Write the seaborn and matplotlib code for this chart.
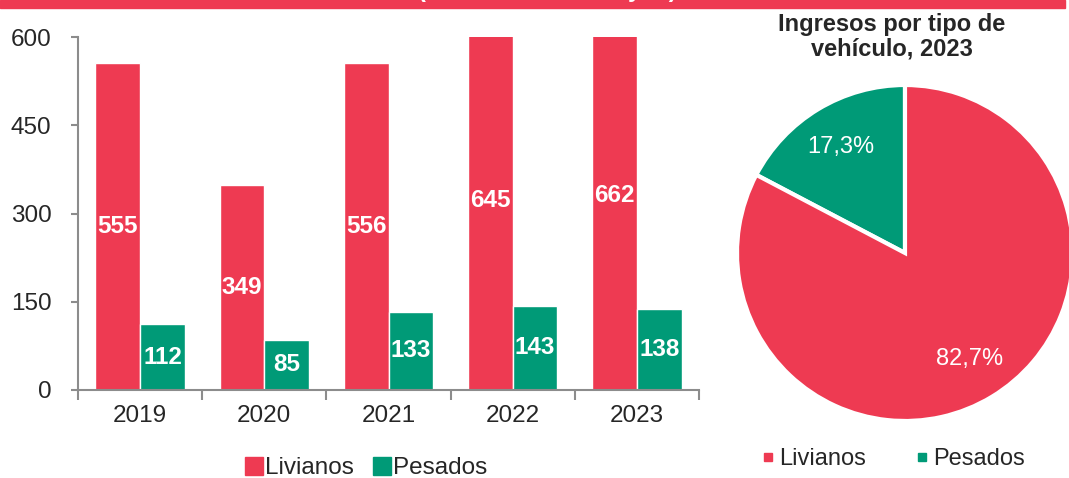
import pandas as pd
import matplotlib.pyplot as plt
import seaborn as sns
from matplotlib.patches import Rectangle
from matplotlib.lines import Line2D

# Data
years = ['2019', '2020', '2021', '2022', '2023']
livianos = [555, 349, 556, 645, 662]
pesados = [112, 85, 133, 143, 138]
tipos = ['Livianos', 'Pesados']
pie_shares = [17.3, 82.7]  # Pesados, Livianos (2023)

RED = '#EE3A52'
GREEN = '#009A77'
GREY = '#8C8C8C'

sns.set_theme(style='white')
plt.rcParams['font.family'] = ['Liberation Sans', 'DejaVu Sans']

# long format table for seaborn
df = pd.DataFrame({
    'anio': years * 2,
    'valor': livianos + pesados,
    'tipo': ['Livianos'] * len(years) + ['Pesados'] * len(years),
})

fig = plt.figure(figsize=(10.69, 4.78), dpi=100)

# red banner on top (title is cut off in the original, only descenders show)
fig.patches.append(Rectangle((0, 1 - 8 / 478), 1065 / 1069, 8 / 478,
                             transform=fig.transFigure, color=RED, zorder=0))
fig.text(547 / 1069, 1 + 3 / 478, '(Millones de soles y %)', color='white',
         fontsize=17, fontweight='bold', ha='center', va='baseline')

# ---- bar chart ----
ax = fig.add_axes([78 / 1069, 88 / 478, 621 / 1069, 353 / 478])
sns.barplot(data=df, x='anio', y='valor', hue='tipo', palette=[RED, GREEN],
            width=0.72, saturation=1, gap=0, ax=ax, legend=False)
ax.set_ylim(0, 600)
ax.set_xlim(-0.5, 4.5)
ax.set_yticks([0, 150, 300, 450, 600])
ax.set_xlabel('')
ax.set_ylabel('')
for s in ['top', 'right']:
    ax.spines[s].set_visible(False)
for s in ['left', 'bottom']:
    ax.spines[s].set_color(GREY)
    ax.spines[s].set_linewidth(1.5)
ax.tick_params(axis='y', which='major', direction='out', length=5, width=1.5,
               color=GREY, labelsize=17.5, pad=14, left=True)
ax.tick_params(axis='x', which='major', length=0, labelsize=17.5, pad=11)
ax.set_xticks([i - 0.5 for i in range(len(years) + 1)], minor=True)
ax.tick_params(axis='x', which='minor', direction='out', length=7, width=1.5,
               color=GREY, bottom=True)

# value labels at the middle of each bar (even when clipped at 600)
for cont, vals in zip(ax.containers, [livianos, pesados]):
    for bar, v in zip(cont, vals):
        ax.text(bar.get_x() + bar.get_width() / 2, v / 2, str(v),
                color='white', fontsize=17.5, fontweight='bold',
                ha='center', va='center')

bar_handles = [Line2D([], [], marker='s', linestyle='', markersize=13,
                      color=c) for c in [RED, GREEN]]
fig.legend(bar_handles, tipos, loc='center', bbox_to_anchor=(365 / 1069, 1 - 468 / 478),
           ncol=2, frameon=False, fontsize=17.5, handletextpad=0.0,
           columnspacing=0.7, handlelength=0.9)

# ---- pie chart ----
pax = fig.add_axes([(905 - 168) / 1069, (478 - 253 - 168) / 478, 336 / 1069, 336 / 478])
pax.pie(pie_shares, colors=[GREEN, RED], startangle=90, counterclock=True,
        autopct=lambda p: f'{p:.1f}%'.replace('.', ','), pctdistance=0.74,
        wedgeprops=dict(edgecolor='white', linewidth=3),
        textprops=dict(color='white', fontsize=17))
pax.set_xlim(-1, 1)
pax.set_ylim(-1, 1)
pax.set_aspect('equal')

fig.text(892 / 1069, 1 - 37 / 478, 'Ingresos por tipo de\nvehículo, 2023',
         ha='center', va='center', fontsize=17, fontweight='bold',
         linespacing=1.1)

pie_handles = [Line2D([], [], marker='s', linestyle='', markersize=6,
                      color=c) for c in [RED, GREEN]]
fig.legend(pie_handles, tipos, loc='center', bbox_to_anchor=(893 / 1069, 1 - 459 / 478),
           ncol=2, frameon=False, fontsize=17, handletextpad=0.15,
           columnspacing=2.1, handlelength=0.6)

fig.savefig('out.png', dpi=100)
